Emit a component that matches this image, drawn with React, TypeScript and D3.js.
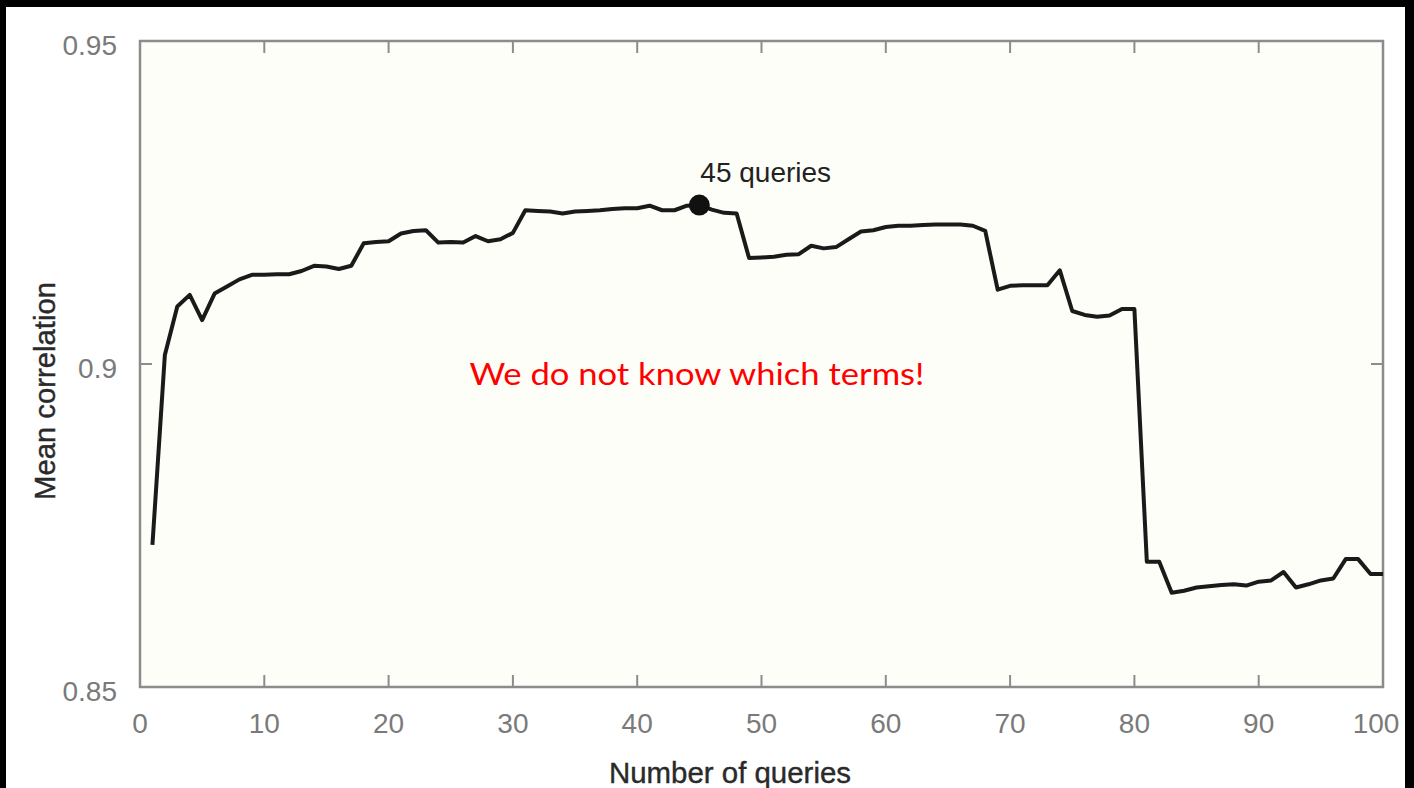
import React from "react";
import * as d3 from "d3";

// mean correlation for 1..100 queries
const meanCorrelation = [
  0.8720, 0.9014, 0.9089, 0.9107, 0.9068, 0.9109, 0.9120, 0.9131, 0.9138, 0.9138,
  0.9139, 0.9139, 0.9144, 0.9152, 0.9151, 0.9147, 0.9152, 0.9187, 0.9189, 0.9190,
  0.9202, 0.9206, 0.9207, 0.9188, 0.9189, 0.9188, 0.9198, 0.9190, 0.9193, 0.9203,
  0.9238, 0.9237, 0.9236, 0.9233, 0.9236, 0.9237, 0.9238, 0.9240, 0.9241, 0.9241,
  0.9245, 0.9238, 0.9238, 0.9245, 0.9246, 0.9239, 0.9234, 0.9233, 0.9164, 0.9165,
  0.9166, 0.9169, 0.9170, 0.9183, 0.9179, 0.9181, 0.9193, 0.9205, 0.9207, 0.9212,
  0.9214, 0.9214, 0.9215, 0.9216, 0.9216, 0.9216, 0.9214, 0.9206, 0.9115, 0.9121,
  0.9122, 0.9122, 0.9122, 0.9145, 0.9082, 0.9076, 0.9073, 0.9075, 0.9085, 0.9085,
  0.8694, 0.8694, 0.8646, 0.8649, 0.8654, 0.8656, 0.8658, 0.8659, 0.8657, 0.8663,
  0.8665, 0.8678, 0.8654, 0.8659, 0.8665, 0.8668, 0.8698, 0.8698, 0.8675, 0.8675,
];
const queryCounts = meanCorrelation.map((_, i) => i + 1);

const xTicks = [0, 10, 20, 30, 40, 50, 60, 70, 80, 90, 100];
const yTicks = [0.85, 0.9, 0.95];
const yTickLabels = ["0.85", "0.9", "0.95"];

const highlight = { n: 45, label: "45 queries" };
const note = "We do not know which terms!";

const W = 1414;
const H = 788;
const margin = { top: 41, left: 140, right: 31, bottom: 101 };

export default function App() {
  const iw = W - margin.left - margin.right;
  const ih = H - margin.top - margin.bottom;

  const x = d3.scaleLinear().domain([0, 100]).range([0, iw]);
  const y = d3.scaleLinear().domain([0.85, 0.95]).range([ih, 0]);

  const line = d3
    .line<number>()
    .x((_, i) => x(queryCounts[i]))
    .y((d) => y(d));

  const hx = x(highlight.n);
  const hy = y(meanCorrelation[highlight.n - 1]);
  const tickLen = 12;
  const frame = "#8c8c8c";
  const tickFont = "'Liberation Sans', Arial, sans-serif";
  const tickColor = "#7a7a7a";

  return (
    <div style={{ position: "fixed", left: 0, top: 0 }}>
      <svg width={W} height={H} style={{ display: "block", background: "#fff" }}>
        {/* black slide borders */}
        <rect x={0} y={0} width={W} height={7} fill="#000" />
        <rect x={0} y={0} width={6} height={H} fill="#000" />
        <rect x={1405} y={0} width={9} height={H} fill="#000" />

        <g transform={`translate(${margin.left},${margin.top})`}>
          <rect x={0} y={0} width={iw} height={ih} fill="#fefef8" />

          {xTicks.map((t, i) => (
            <g key={"x" + t}>
              <line x1={x(t)} x2={x(t)} y1={ih} y2={ih - tickLen} stroke={frame} strokeWidth={2} />
              <line x1={x(t)} x2={x(t)} y1={0} y2={tickLen} stroke={frame} strokeWidth={2} />
              <text
                x={x(t)}
                dx={i === xTicks.length - 1 ? -7 : 0}
                y={ih + 46}
                textAnchor="middle"
                fontFamily={tickFont}
                fontSize={28}
                fill={tickColor}
              >
                {t}
              </text>
            </g>
          ))}

          {yTicks.map((t, i) => (
            <g key={"y" + t}>
              <line x1={0} x2={tickLen} y1={y(t)} y2={y(t)} stroke={frame} strokeWidth={2} />
              <line x1={iw} x2={iw - tickLen} y1={y(t)} y2={y(t)} stroke={frame} strokeWidth={2} />
              <text
                x={-23}
                y={y(t) + 14}
                textAnchor="end"
                fontFamily={tickFont}
                fontSize={28}
                fill={tickColor}
              >
                {yTickLabels[i]}
              </text>
            </g>
          ))}

          <rect x={0} y={0} width={iw} height={ih} fill="none" stroke={frame} strokeWidth={2.5} />

          <path
            d={line(meanCorrelation) ?? ""}
            fill="none"
            stroke="#1a1a1a"
            strokeWidth={4}
            strokeLinejoin="round"
          />

          <circle cx={hx} cy={hy} r={10.5} fill="#111" />
          <text
            x={hx + 1}
            y={hy - 23}
            fontFamily={tickFont}
            fontSize={28}
            fill="#222"
          >
            {highlight.label}
          </text>

          <text
            x={x(26.5)}
            y={y(0.9) + 21}
            fontFamily="Lato, 'Open Sans', sans-serif"
            fontSize={31}
            fill="#ff0000"
            textLength={455}
            lengthAdjust="spacingAndGlyphs"
          >
            {note}
          </text>
        </g>

        <text
          x={730}
          y={783}
          textAnchor="middle"
          fontFamily={tickFont}
          fontSize={30}
          fill="#2a2a2a"
          textLength={242}
          lengthAdjust="spacingAndGlyphs"
          stroke="#2a2a2a"
          strokeWidth={0.4}
        >
          Number of queries
        </text>
        <text
          transform={`translate(55,391) rotate(-90)`}
          textAnchor="middle"
          fontFamily={tickFont}
          fontSize={30}
          fill="#2a2a2a"
          textLength={218}
          lengthAdjust="spacingAndGlyphs"
          stroke="#2a2a2a"
          strokeWidth={0.4}
        >
          Mean correlation
        </text>
      </svg>
    </div>
  );
}
